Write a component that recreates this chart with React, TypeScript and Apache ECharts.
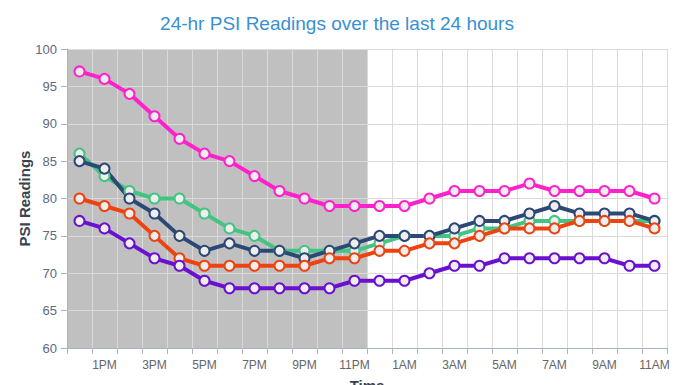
import React, { useEffect, useRef } from "react";
import * as echarts from "echarts";

const categories = [
  "12PM", "1PM", "2PM", "3PM", "4PM", "5PM", "6PM", "7PM", "8PM", "9PM", "10PM", "11PM",
  "12AM", "1AM", "2AM", "3AM", "4AM", "5AM", "6AM", "7AM", "8AM", "9AM", "10AM", "11AM",
];
const shadedHours = ["12PM", "1PM", "2PM", "3PM", "4PM", "5PM", "6PM", "7PM", "8PM", "9PM", "10PM", "11PM"];

const greenValues = [86, 83, 81, 80, 80, 78, 76, 75, 73, 73, 73, 73, 74, 75, 75, 75, 76, 76, 77, 77, 77, 77, 77, 77];
const navyValues = [85, 84, 80, 78, 75, 73, 74, 73, 73, 72, 73, 74, 75, 75, 75, 76, 77, 77, 78, 79, 78, 78, 78, 77];
const orangeValues = [80, 79, 78, 75, 72, 71, 71, 71, 71, 71, 72, 72, 73, 73, 74, 74, 75, 76, 76, 76, 77, 77, 77, 76];
const purpleValues = [77, 76, 74, 72, 71, 69, 68, 68, 68, 68, 68, 69, 69, 69, 70, 71, 71, 72, 72, 72, 72, 72, 71, 71];
const magentaValues = [97, 96, 94, 91, 88, 86, 85, 83, 81, 80, 79, 79, 79, 79, 80, 81, 81, 81, 82, 81, 81, 81, 81, 80];

const yMin = 60;
const yMax = 100;
const yInterval = 5;

const FONT = "'Liberation Sans', Arial, sans-serif";

function lineSeries(name: string, data: number[], color: string) {
  return {
    name,
    type: "line",
    data,
    symbol: "circle",
    symbolSize: 10,
    showSymbol: true,
    lineStyle: { color, width: 4 },
    itemStyle: { color: "#eeeeee", borderColor: color, borderWidth: 2 },
    z: 3,
  };
}

export default function App() {
  const ref = useRef<HTMLDivElement>(null);
  useEffect(() => {
    if (!ref.current) return;
    const chart = echarts.init(ref.current, undefined, { renderer: "svg" });
    const shadeSet = new Set(shadedHours);
    chart.setOption({
      animation: false,
      textStyle: { fontFamily: FONT },
      title: {
        text: "24-hr PSI Readings over the last 24 hours",
        left: "center",
        top: 9,
        textStyle: { color: "#3a8fd4", fontSize: 19, fontWeight: "normal", fontFamily: FONT },
      },
      grid: { left: 67, right: 7, top: 49, bottom: 37, containLabel: false, outerBoundsMode: "none" },
      xAxis: {
        type: "category",
        data: categories,
        boundaryGap: true,
        name: "Time",
        nameLocation: "middle",
        nameGap: 30,
        nameMoveOverlap: false,
        nameTextStyle: { color: "#3a4350", fontSize: 15, fontWeight: "bold", fontFamily: FONT },
        axisLine: { lineStyle: { color: "#a9b3c1", width: 1 } },
        axisTick: { show: true, interval: 0, length: 6, lineStyle: { color: "#a9b3c1" } },
        axisLabel: {
          interval: (i: number) => i % 2 === 1,
          color: "#666666",
          fontSize: 12,
          margin: 11,
          fontFamily: FONT,
        },
        splitLine: { show: true, interval: 0, lineStyle: { color: "#dadada", width: 1 } },
      },
      yAxis: {
        type: "value",
        min: yMin,
        max: yMax,
        interval: yInterval,
        name: "PSI Readings",
        nameLocation: "middle",
        nameGap: 35,
        nameMoveOverlap: false,
        nameTextStyle: { color: "#3a4350", fontSize: 15, fontWeight: "bold", fontFamily: FONT },
        axisLine: { show: true, lineStyle: { color: "#a9b3c1", width: 1 } },
        axisTick: { show: true, length: 6, lineStyle: { color: "#a9b3c1" } },
        axisLabel: { color: "#5b6b80", fontSize: 13, margin: 10, fontFamily: FONT },
        splitLine: { show: true, lineStyle: { color: "#dadada", width: 1 } },
      },
      series: [
        {
          name: "shade",
          type: "bar",
          data: categories.map((c) => (shadeSet.has(c) ? yMax : null)),
          barWidth: "100%",
          barCategoryGap: "0%",
          itemStyle: { color: "#c0c0c0" },
          silent: true,
          clip: true,
          z: -1,
        },
        lineSeries("Magenta", magentaValues, "#ff22cc"),
        lineSeries("Green", greenValues, "#43c482"),
        lineSeries("Navy", navyValues, "#2e4876"),
        lineSeries("Orange", orangeValues, "#ee4311"),
        lineSeries("Purple", purpleValues, "#6a10cf"),
      ],
    });
    return () => chart.dispose();
  }, []);
  return (
    <div
      ref={ref}
      style={{ position: "fixed", left: 0, top: 0, width: 674, height: 385, background: "#ffffff" }}
    />
  );
}
